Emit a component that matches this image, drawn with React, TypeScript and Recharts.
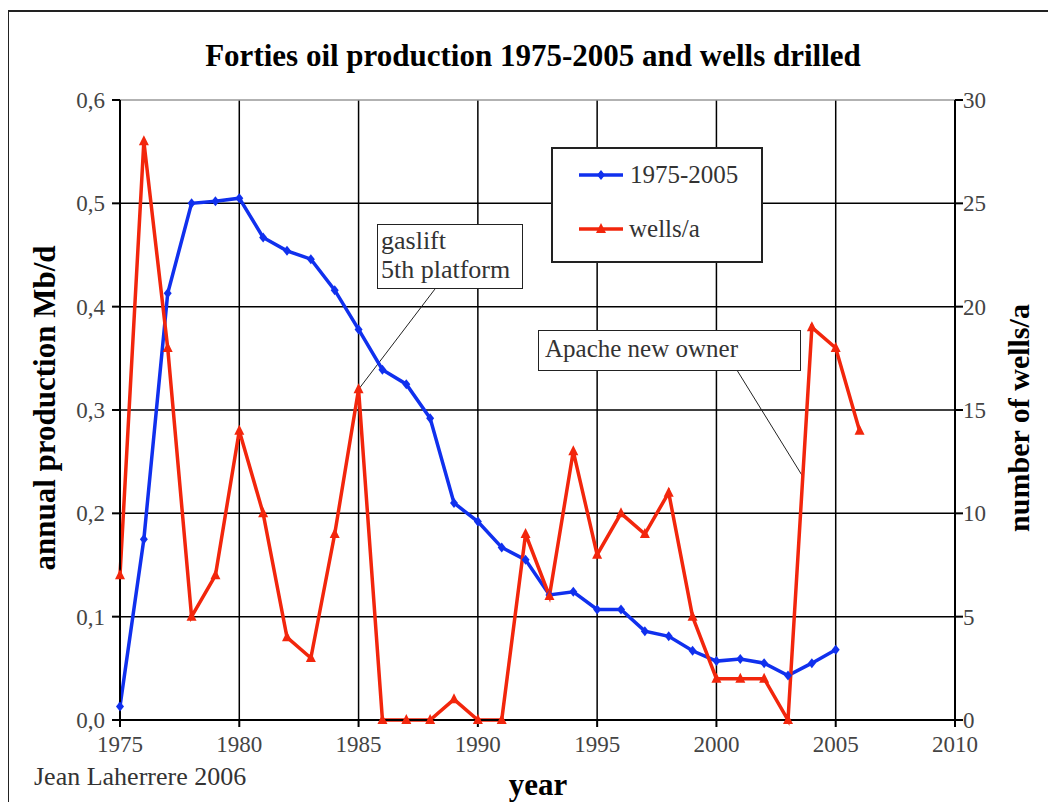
import React from 'react';
import {
  LineChart, Line, XAxis, YAxis, CartesianGrid, ReferenceLine,
} from 'recharts';

// production, Mb/d (left axis)
const prodYears = [
  1975, 1976, 1977, 1978, 1979, 1980, 1981, 1982, 1983, 1984, 1985, 1986, 1987, 1988, 1989, 1990,
  1991, 1992, 1993, 1994, 1995, 1996, 1997, 1998, 1999, 2000, 2001, 2002, 2003, 2004, 2005,
];
const production = [
  0.013, 0.175, 0.413, 0.500, 0.502, 0.505, 0.467, 0.454, 0.446, 0.416, 0.378, 0.339, 0.325, 0.292, 0.210, 0.192,
  0.167, 0.155, 0.121, 0.124, 0.107, 0.107, 0.086, 0.081, 0.067, 0.057, 0.059, 0.055, 0.043, 0.055, 0.068,
];

// wells drilled per year (right axis)
const wellYears = [
  1975, 1976, 1977, 1978, 1979, 1980, 1981, 1982, 1983, 1984, 1985, 1986, 1987, 1988, 1989, 1990,
  1991, 1992, 1993, 1994, 1995, 1996, 1997, 1998, 1999, 2000, 2001, 2002, 2003, 2004, 2005, 2006,
];
const wells = [
  7, 28, 18, 5, 7, 14, 10, 4, 3, 9, 16, 0, 0, 0, 1, 0,
  0, 9, 6, 13, 8, 10, 9, 11, 5, 2, 2, 2, 0, 19, 18, 14,
];

const xTicks = [1975, 1980, 1985, 1990, 1995, 2000, 2005, 2010];
const leftTicks = [0, 0.1, 0.2, 0.3, 0.4, 0.5, 0.6];
const rightTicks = [0, 5, 10, 15, 20, 25, 30];

const prodData = prodYears.map((year, i) => ({ year, prod: production[i] }));
const wellData = wellYears.map((year, i) => ({ year, wells: wells[i] }));

const BLUE = '#1030ee';
const RED = '#f2260c';
const SERIF = '"Liberation Serif", "Times New Roman", serif';

const Diamond = (props: any) => {
  const { cx, cy } = props;
  if (cx == null || cy == null) return null;
  return <polygon points={`${cx},${cy - 5} ${cx + 4},${cy} ${cx},${cy + 5} ${cx - 4},${cy}`} fill={BLUE} />;
};

const Triangle = (props: any) => {
  const { cx, cy } = props;
  if (cx == null || cy == null) return null;
  return <polygon points={`${cx},${cy - 6} ${cx + 5},${cy + 4} ${cx - 5},${cy + 4}`} fill={RED} />;
};

const tickStyle = { fontFamily: SERIF, fontSize: 23, fill: '#444' };

const App = () => {
  return (
    <div style={{ position: 'relative', width: 1040, height: 794, fontFamily: SERIF }}>
      {/* page rulers and outer frame */}
      <div style={{ position: 'absolute', left: -8, top: 14, width: 5, height: 780, background: 'repeating-linear-gradient(to bottom, #bbb 0 1px, transparent 1px 22.5px)' }} />
      <div style={{ position: 'absolute', left: 40, top: -8, width: 1000, height: 4, background: 'repeating-linear-gradient(to right, #bbb 0 1px, transparent 1px 43.3px)' }} />
      <div style={{ position: 'absolute', left: -1, top: 2, right: -8, bottom: 0, borderLeft: '2px solid #222', borderTop: '2px solid #222' }} />

      <div style={{ position: 'absolute', left: 0, top: 30, width: 1050, textAlign: 'center', fontSize: 31, fontWeight: 'bold' }}>
        Forties oil production 1975-2005 and wells drilled
      </div>

      <LineChart width={1040} height={794} margin={{ top: 92, right: 20, bottom: 14, left: 20 }}>
        <CartesianGrid
          yAxisId="left"
          stroke="#000"
          strokeWidth={1.5}
          horizontalValues={[0.1, 0.2, 0.3, 0.4, 0.5]}
          verticalValues={[1980, 1985, 1990, 1995, 2000, 2005]}
        />
        <XAxis
          dataKey="year"
          type="number"
          domain={[1975, 2010]}
          ticks={xTicks}
          allowDuplicatedCategory={false}
          height={68}
          tick={tickStyle}
          tickSize={7}
          tickMargin={9}
          stroke="#000"
          strokeWidth={2}
        />
        <YAxis
          yAxisId="left"
          domain={[0, 0.6]}
          ticks={leftTicks}
          width={92}
          tick={tickStyle}
          tickFormatter={(v: number) => v.toFixed(1).replace('.', ',')}
          tickSize={8}
          tickMargin={7}
          stroke="#000"
          strokeWidth={2}
        />
        <YAxis
          yAxisId="right"
          orientation="right"
          domain={[0, 30]}
          ticks={rightTicks}
          width={73}
          tick={{ ...tickStyle, textAnchor: 'start' }}
          tickSize={8}
          tickMargin={0}
          stroke="#000"
          strokeWidth={2}
        />
        <ReferenceLine yAxisId="left" y={0.6} stroke="#999" strokeWidth={1.5} />
        <ReferenceLine
          yAxisId="right"
          segment={[{ x: 1985, y: 16 }, { x: 1988.2, y: 20.85 }]}
          stroke="#222"
          strokeWidth={1}
        />
        <ReferenceLine
          yAxisId="right"
          segment={[{ x: 2000.86, y: 16.93 }, { x: 2003.63, y: 11.76 }]}
          stroke="#222"
          strokeWidth={1}
        />
        <Line
          yAxisId="left"
          data={prodData}
          dataKey="prod"
          stroke={BLUE}
          strokeWidth={3.5}
          dot={<Diamond />}
          isAnimationActive={false}
        />
        <Line
          yAxisId="right"
          data={wellData}
          dataKey="wells"
          stroke={RED}
          strokeWidth={3.5}
          dot={<Triangle />}
          isAnimationActive={false}
        />
      </LineChart>

      {/* axis titles */}
      <div style={{ position: 'absolute', left: 37, top: 400, transform: 'translate(-50%, -50%) rotate(-90deg)', whiteSpace: 'nowrap', fontSize: 31, fontWeight: 'bold' }}>
        annual production Mb/d
      </div>
      <div style={{ position: 'absolute', left: 1011, top: 410, transform: 'translate(-50%, -50%) rotate(-90deg)', whiteSpace: 'nowrap', fontSize: 30, fontWeight: 'bold' }}>
        number of wells/a
      </div>
      <div style={{ position: 'absolute', left: 530, top: 759, transform: 'translateX(-50%)', fontSize: 31, fontWeight: 'bold' }}>
        year
      </div>
      <div style={{ position: 'absolute', left: 26, top: 754, fontSize: 26, color: '#333' }}>
        Jean Laherrere 2006
      </div>

      {/* legend */}
      <div style={{ position: 'absolute', left: 543, top: 139, width: 212, height: 116, background: '#fff', border: '2px solid #222', boxSizing: 'border-box' }}>
        <div style={{ position: 'absolute', left: 24, top: 12, display: 'flex', alignItems: 'center' }}>
          <svg width={48} height={16}>
            <line x1={2} y1={8} x2={46} y2={8} stroke={BLUE} strokeWidth={3.5} />
            <polygon points="24,3 28,8 24,13 20,8" fill={BLUE} />
          </svg>
          <span style={{ fontSize: 25, color: '#333', marginLeft: 5 }}>1975-2005</span>
        </div>
        <div style={{ position: 'absolute', left: 24, top: 66, display: 'flex', alignItems: 'center' }}>
          <svg width={48} height={16}>
            <line x1={2} y1={8} x2={46} y2={8} stroke={RED} strokeWidth={3.5} />
            <polygon points="24,2 29,12 19,12" fill={RED} />
          </svg>
          <span style={{ fontSize: 25, color: '#333', marginLeft: 4 }}>wells/a</span>
        </div>
      </div>

      {/* annotations */}
      <div style={{ position: 'absolute', left: 369, top: 216, width: 146, height: 65, background: '#fff', border: '1.5px solid #222', boxSizing: 'border-box', padding: '1px 0 0 3px', fontSize: 26, lineHeight: '29px', color: '#333', whiteSpace: 'nowrap' }}>
        gaslift<br />5th platform
      </div>
      <div style={{ position: 'absolute', left: 530, top: 322, width: 263, height: 41, background: '#fff', border: '1.5px solid #222', boxSizing: 'border-box', padding: '3px 0 0 6px', fontSize: 25, lineHeight: '29px', color: '#333' }}>
        Apache new owner
      </div>
    </div>
  );
};

export default App;
